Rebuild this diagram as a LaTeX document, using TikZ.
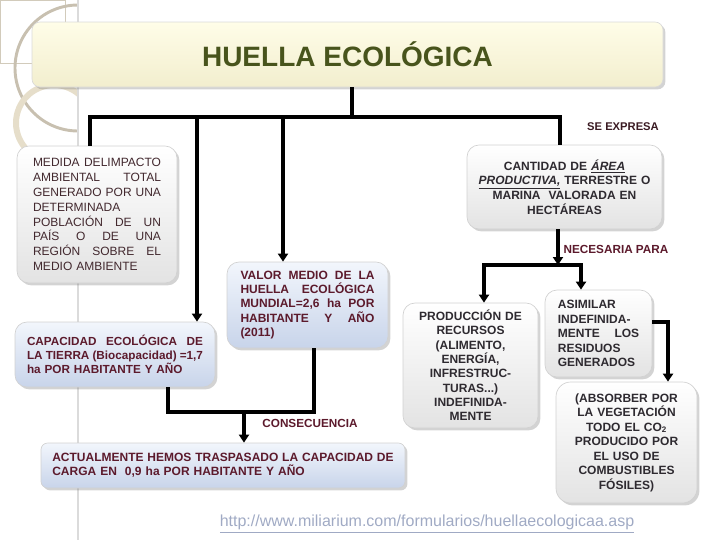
\documentclass[tikz,border=0pt]{standalone}
\usepackage{fontspec}
\setmainfont{Liberation Sans}
\usetikzlibrary{arrows.meta,shadows}
\definecolor{maroon}{RGB}{92,26,44}
\definecolor{dgray}{RGB}{46,42,48}
\definecolor{olive}{RGB}{72,84,28}
\definecolor{medtxt}{RGB}{66,40,46}
\definecolor{urlc}{RGB}{160,170,196}
\definecolor{ringc}{RGB}{230,222,202}
\definecolor{ringd}{RGB}{200,192,176}
\definecolor{titletop}{RGB}{255,253,232}
\definecolor{titlebot}{RGB}{242,238,206}
\definecolor{bluetop}{RGB}{242,246,252}
\definecolor{bluebot}{RGB}{200,212,234}
\definecolor{sec}{RGB}{58,26,34}
\newcommand\jl[2]{\makebox[#1][s]{#2}}
\begin{document}
\begin{tikzpicture}[x=0.75pt,y=-0.75pt,
  box/.style={rounded corners=9pt, draw=black!18, line width=0.5pt, inner sep=0pt,
    drop shadow={opacity=0.35, shadow xshift=1.8pt, shadow yshift=-1.8pt},
    font=\fontsize{9}{10.8}\selectfont\bfseries},
  wbox/.style={box, top color=white, bottom color=black!11, text=dgray},
  bbox/.style={box, top color=bluetop, bottom color=bluebot, text=maroon},
  conn/.style={line width=2.4pt, draw=black, line join=miter},
  arr/.style={conn, -{Triangle[width=7.5pt,length=6pt]}},
  arrtwo/.style={conn, {Triangle[width=7.5pt,length=6pt]}-{Triangle[width=7.5pt,length=6pt]}},
  lbl/.style={inner sep=0pt, font=\fontsize{8.8}{10}\selectfont\bfseries}]
\useasboundingbox (0,0) rectangle (720,540);
% background decoration
\draw[ringc!80!gray, line width=0.6pt] (0,0) rectangle (65,63);
\begin{scope}
  \clip (0,0) rectangle (78,540);
  \draw[ringd, line width=2.2pt] (78,68) circle[radius=63];
  \draw[ringc, line width=4.5pt] (54,123) circle[radius=38];
\end{scope}
\draw[black!14, line width=1.5pt] (78,0) -- (78,540);

% nodes
\node[rounded corners=6pt, draw=black!15, line width=0.5pt, minimum width=473.25pt, minimum height=48.75pt,
  top color=titletop, bottom color=titlebot, drop shadow={opacity=0.35, shadow xshift=1.8pt, shadow yshift=-1.8pt},
  text=olive, font=\fontsize{21}{24}\selectfont\bfseries] (title) at (347.5,54.5) {HUELLA ECOLÓGICA};

\node[wbox, font=\fontsize{9}{11.1}\selectfont, text=medtxt, minimum width=120pt, minimum height=102.75pt,
  text width=96pt, align=left] (medida) at (97,214.5)
  {\jl{96pt}{MEDIDA\hfill DELIMPACTO}\\\jl{96pt}{AMBIENTAL\hfill TOTAL}\\\jl{96pt}{GENERADO\hfill POR\hfill UNA}\\DETERMINADA\\\jl{96pt}{POBLACIÓN\hfill DE\hfill UN}\\\jl{96pt}{PAÍS\hfill O\hfill DE\hfill UNA}\\\jl{96pt}{REGIÓN\hfill SOBRE\hfill EL}\\MEDIO AMBIENTE};

\node[bbox, font=\fontsize{8.8}{10.65}\selectfont\bfseries, minimum width=150pt, minimum height=48.75pt,
  text width=132pt, align=left] (cap) at (115,354.5)
  {\jl{132pt}{CAPACIDAD\hfill ECOLÓGICA\hfill DE}\\\jl{132pt}{LA\hfill TIERRA\hfill (Biocapacidad)\hfill =1,7}\\ha POR HABITANTE Y AÑO};

\node[bbox, font=\fontsize{9}{10.75}\selectfont\bfseries, minimum width=120.75pt, minimum height=64.5pt,
  text width=100.5pt, align=left] (valor) at (307.5,305)
  {\jl{100.5pt}{VALOR\hfill MEDIO\hfill DE\hfill LA}\\\jl{100.5pt}{HUELLA\hfill ECOLÓGICA}\\\jl{100.5pt}{MUNDIAL=2,6\hfill ha\hfill POR}\\\jl{100.5pt}{HABITANTE\hfill Y\hfill AÑO}\\(2011)};

\node[wbox, font=\fontsize{9}{11}\selectfont\bfseries, minimum width=146.25pt, minimum height=63pt,
  text width=140pt, align=center] (cant) at (564.5,187)
  {CANTIDAD DE \underline{\textit{ÁREA}}\\\underline{\textit{PRODUCTIVA,}} TERRESTRE O\\MARINA\ \ VALORADA EN\\HECTÁREAS};

\node[wbox, font=\fontsize{9}{10.75}\selectfont\bfseries, minimum width=101.25pt, minimum height=93.75pt,
  text width=95pt, align=center] (prod) at (470.5,365.5)
  {PRODUCCIÓN DE\\RECURSOS\\(ALIMENTO,\\ENERGÍA,\\INFRESTRUC-\\TURAS...)\\INDEFINIDA-\\MENTE};

\node[wbox, font=\fontsize{9}{10.9}\selectfont\bfseries, minimum width=80.25pt, minimum height=65.25pt,
  text width=61pt, align=left] (asim) at (598.5,333.5)
  {ASIMILAR\\INDEFINIDA-\\\jl{61pt}{MENTE\hfill LOS}\\RESIDUOS\\GENERADOS};

\node[wbox, rounded corners=11pt, font=\fontsize{9}{10.9}\selectfont\bfseries, minimum width=105.75pt, minimum height=90.75pt,
  text width=100pt, align=center] (abs) at (626.5,442.5)
  {(ABSORBER POR\\LA VEGETACIÓN\\TODO EL CO\textsubscript{2}\\PRODUCIDO POR\\EL USO DE\\COMBUSTIBLES\\FÓSILES)};

\node[bbox, rounded corners=5pt, font=\fontsize{9}{10.8}\selectfont\bfseries, minimum width=273pt, minimum height=33.75pt,
  text width=256pt, align=left] (act) at (223,465.5)
  {\jl{256pt}{ACTUALMENTE\hfill HEMOS\hfill TRASPASADO\hfill LA\hfill CAPACIDAD\hfill DE}\\CARGA EN\ \ 0,9 ha POR HABITANTE Y AÑO};

% labels
\node[lbl, text=sec, font=\fontsize{8.4}{10}\selectfont\bfseries] (lse) at (623,127) {SE EXPRESA};
\node[lbl, text=maroon] (lnec) at (616,249) {NECESARIA PARA};
\node[lbl, text=maroon] (lcons) at (310,423) {CONSECUENCIA};
\node[inner sep=0pt, text=urlc, font=\fontsize{12}{14}\selectfont] (url) at (427,524)
  {\underline{http://www.miliarium.com/formularios/huellaecologicaa.asp}};

% connectors
\coordinate (bt) at (352,117);
\coordinate (b1) at (90,117);
\coordinate (b2) at (197,117);
\coordinate (b3) at (283,117);
\coordinate (b4) at (560,117);
\draw[conn] (title.south -| bt) -- (bt);
\draw[conn] (medida.north -| b1) -- (b1) -- (b4) -- (cant.north -| b4);
\draw[arr] (b2) -- (cap.north -| b2);
\draw[arr] (b3) -- (valor.north -| b3);

\coordinate (n0) at (558,265);
\coordinate (n1) at (484,265);
\coordinate (n2) at (581,265);
\draw[arr] (cant.south -| n0) -- (n0);
\draw[arrtwo] (prod.north -| n1) -- (n1) -- (n2) -- (asim.north -| n2);

\coordinate (a1) at (668,322);
\draw[arr] (asim.east |- a1) -- (a1) -- (abs.north -| a1);

\coordinate (jL) at (168,412);
\coordinate (jM) at (244,412);
\coordinate (jR) at (314,412);
\draw[conn] (cap.south -| jL) -- (jL) -- (jR) -- (valor.south -| jR);
\draw[arr] (jM) -- (act.north -| jM);
\end{tikzpicture}
\end{document}
